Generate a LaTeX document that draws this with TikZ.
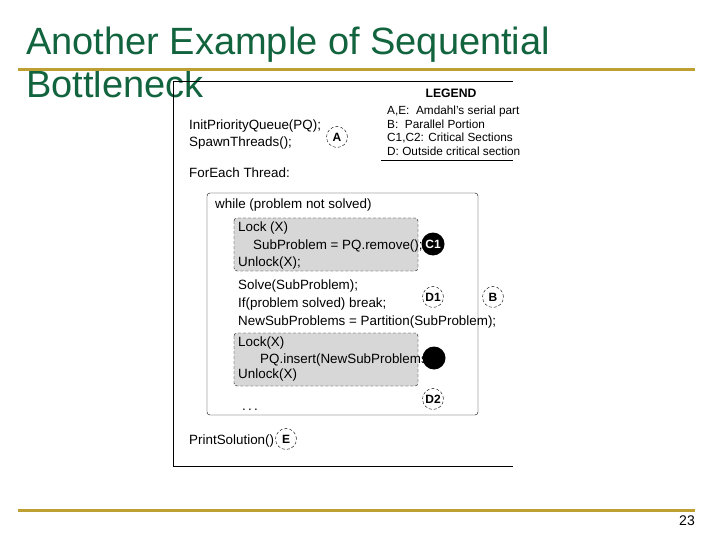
\documentclass[tikz,border=0pt]{standalone}
\usepackage{fontspec}
\setmainfont{Liberation Sans}
\usetikzlibrary{positioning,calc}
\definecolor{titlegreen}{RGB}{18,100,62}
\definecolor{gold}{RGB}{190,160,50}
\definecolor{lockgray}{RGB}{215,215,215}

\begin{document}
\begin{tikzpicture}[x=1pt, y=-1pt,
code/.style={anchor=base west, inner sep=0pt, font=\fontsize{13.4}{15}\selectfont},
legendtxt/.style={anchor=base west, inner sep=0pt, font=\fontsize{11.8}{13}\selectfont},
tag/.style={circle, draw, densely dashed, thin, minimum size=21pt, inner sep=0pt, font=\fontsize{12}{14}\selectfont\bfseries},
crit/.style={circle, fill=black, minimum size=23pt, inner sep=0pt, text=white, font=\fontsize{12}{14}\selectfont\bfseries},
lockbox/.style={fill=lockgray, draw, densely dashed, rounded corners=3pt},
rule/.style={line width=3pt, gold}]
\useasboundingbox (0,0) rectangle (720,540);
% title and slide rules
\node[anchor=base west, inner sep=0pt, text=titlegreen, font=\fontsize{38}{44}\selectfont] (t1) at (26,55) {Another Example of Sequential};
\node[anchor=base west, inner sep=0pt, text=titlegreen, font=\fontsize{38}{44}\selectfont] (t2) at (26,98) {Bottleneck};
\draw[rule] (18,70) -- (695,70);
\draw[rule] (18,510) -- (695,510);
\node[anchor=base east, inner sep=0pt, font=\fontsize{14}{16}\selectfont] (pg) at (695,525) {23};
% frame of the figure
\draw (513,81) -- (173,81) -- (173,466) -- (513,466);
% legend
\node[inner sep=0pt, font=\fontsize{12.2}{14}\selectfont\bfseries, anchor=base] (leg) at (451,98) {LEGEND};
\node[legendtxt] (l1) at (387,115) {A,E:\ \ Amdahl's serial part};
\node[legendtxt] (l2) at (387,128.5) {B:\ \ Parallel Portion};
\node[legendtxt] (l3) at (387,142) {C1,C2: Critical Sections};
\node[legendtxt] (l4) at (387,155.5) {D: Outside critical section};
\draw (381,160) -- (513,160);
% serial start
\node[code] (init) at (189,130) {InitPriorityQueue(PQ);};
\node[code] (spawn) at (189,147) {SpawnThreads();};
\node[tag] (A) at (337,137) {A};
\node[code] (each) at (189,178) {ForEach Thread:};
% thread loop
\draw[rounded corners=3pt] (207,193) rectangle (478,415);
\node[code] (while) at (215,209) {while (problem not solved)};
\draw[lockbox] (234,218) rectangle (418,271);
\node[code] (lock1) at (238,231) {Lock (X)};
\node[code] (rem) at (253,249) {SubProblem = PQ.remove();};
\node[code] (unlock1) at (238,266) {Unlock(X);};
\node[crit] (C1) at (433,244) {C1};
\node[code] (solve) at (238,289) {Solve(SubProblem);};
\node[code] (brk) at (238,307) {If(problem solved) break;};
\node[code] (part) at (238,325) {NewSubProblems = Partition(SubProblem);};
\node[tag] (D1) at (433,297) {D1};
\node[tag] (B) at (493,297) {B};
\draw[lockbox] (234,333) rectangle (418,386);
\node[code] (lock2) at (238,346) {Lock(X)};
\node[code] (ins) at (260,363) {PQ.insert(NewSubProblems);};
\node[code] (unlock2) at (238,378) {Unlock(X)};
\node[crit] (C2) at (434,358) {};
\node[tag] (D2) at (433,399) {D2};
\node[code] (dots) at (242,410) {.\,.\,.};
% serial end
\node[code] (print) at (189,444) {PrintSolution()};
\node[tag] (E) at (286,439) {E};
\end{tikzpicture}
\end{document}
